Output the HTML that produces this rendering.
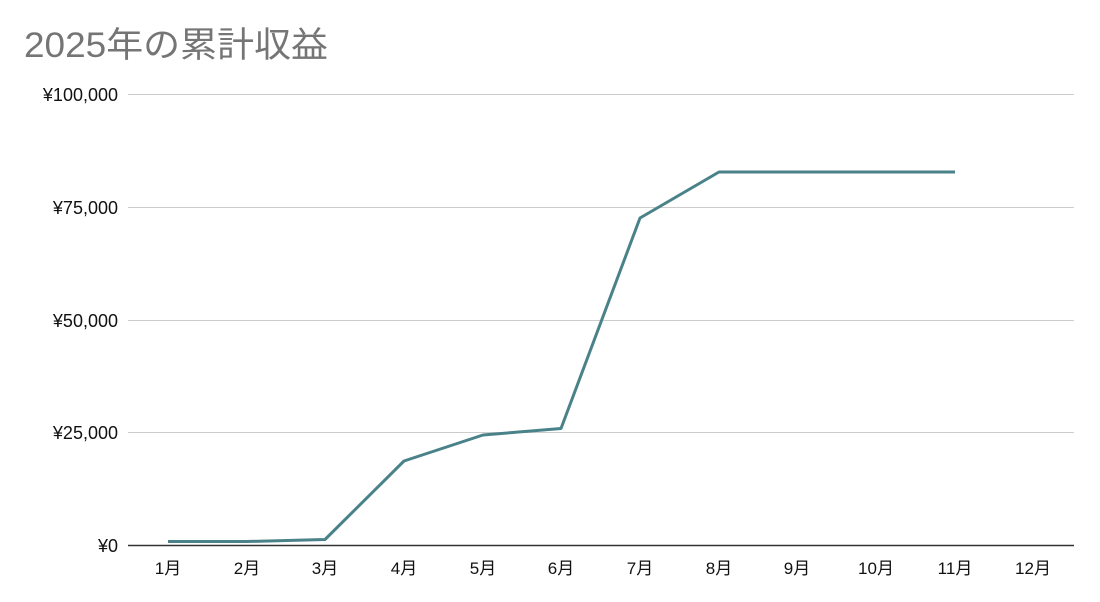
<!DOCTYPE html>
<html><head><meta charset="utf-8"><style>
html,body{margin:0;padding:0;background:#fff;}
svg{display:block;}
</style></head><body>
<svg width="1100" height="602" xmlns="http://www.w3.org/2000/svg">
<rect width="1100" height="602" fill="#fff"/>
<text x="24" y="57" font-family="Liberation Sans, Noto Sans CJK JP, sans-serif" font-size="35" fill="#757575" textLength="304" lengthAdjust="spacingAndGlyphs">2025年の累計収益</text>
<g stroke="#cccccc" stroke-width="1">
<line x1="128" y1="94.5" x2="1074" y2="94.5"/>
<line x1="128" y1="207.5" x2="1074" y2="207.5"/>
<line x1="128" y1="320.5" x2="1074" y2="320.5"/>
<line x1="128" y1="432.5" x2="1074" y2="432.5"/>
</g>
<line x1="128" y1="545.5" x2="1074" y2="545.5" stroke="#333" stroke-width="1.5"/>
<g font-family="Liberation Sans, sans-serif" font-size="18" fill="#111" text-anchor="end">
<text x="118" y="101">¥100,000</text>
<text x="118" y="214">¥75,000</text>
<text x="118" y="327">¥50,000</text>
<text x="118" y="439">¥25,000</text>
<text x="118" y="552">¥0</text>
</g>
<g font-family="Liberation Sans, Noto Sans CJK JP, sans-serif" font-size="17" fill="#111" text-anchor="middle">
<text x="168" y="574">1月</text><text x="247" y="574">2月</text><text x="325" y="574">3月</text>
<text x="404" y="574">4月</text><text x="483" y="574">5月</text><text x="561" y="574">6月</text>
<text x="640" y="574">7月</text><text x="719" y="574">8月</text><text x="797" y="574">9月</text>
<text x="876" y="574">10月</text><text x="955" y="574">11月</text><text x="1033" y="574">12月</text>
</g>
<polyline fill="none" stroke="#4a8289" stroke-width="3" stroke-linejoin="round" points="168,541.5 247,541.5 325,539.5 404,461 483,435 561,428.5 640,218 719,172 797,172 876,172 955,172"/>
</svg>
</body></html>
